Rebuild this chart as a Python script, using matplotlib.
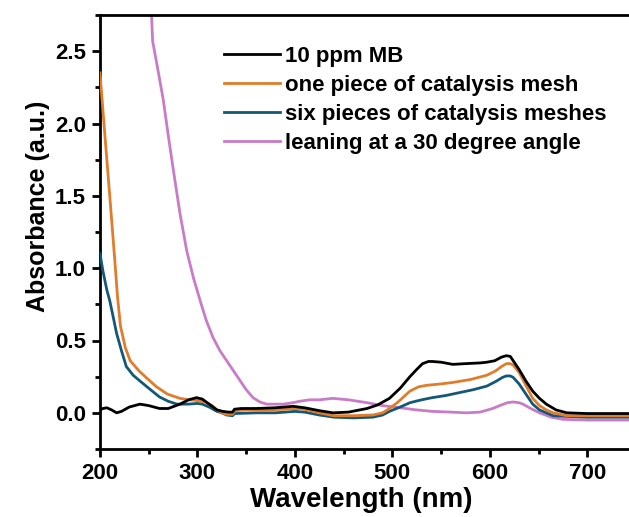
import numpy as np
import matplotlib.pyplot as plt

plt.rcParams.update({
    "font.family": "Liberation Sans",
    "font.weight": "bold",
    "axes.linewidth": 2.0,
})

# UV-vis spectra, wavelength (nm) vs absorbance (a.u.)
wl_mb = [200, 203, 207, 212, 217, 222, 230, 241, 250, 261, 270, 282, 291, 299, 305, 312,
         320, 326, 332, 336, 338, 345, 360, 380, 398, 410, 425, 439, 455, 474, 485, 497,
         508, 518, 525, 531, 537, 541, 550, 562, 575, 590, 597, 605, 612, 617, 621, 624,
         630, 637, 644, 651, 658, 668, 679, 700, 720, 750]
abs_mb = [0.02, 0.03, 0.035, 0.02, 0.0, 0.01, 0.04, 0.06, 0.05, 0.03, 0.03, 0.06, 0.09, 0.105, 0.095, 0.06,
          0.02, 0.01, 0.005, 0.005, 0.025, 0.03, 0.03, 0.035, 0.045, 0.035, 0.015, 0.0, 0.005, 0.03, 0.055, 0.1,
          0.17, 0.25, 0.3, 0.34, 0.355, 0.355, 0.35, 0.335, 0.34, 0.345, 0.35, 0.36, 0.385, 0.395, 0.39, 0.36,
          0.3, 0.22, 0.15, 0.1, 0.06, 0.02, 0.0, -0.005, -0.005, -0.005]

wl_one = [200, 205, 210, 215, 218, 221, 226, 231, 240, 248, 258, 269, 282, 292, 300, 308,
          315, 320, 325, 330, 336, 338, 350, 370, 390, 400, 410, 425, 440, 460, 480, 490,
          497, 505, 518, 527, 535, 550, 562, 580, 597, 606, 612, 617, 621, 624, 630, 637,
          644, 651, 658, 665, 672, 679, 700, 720, 750]
abs_one = [2.35, 1.92, 1.5, 1.07, 0.8, 0.6, 0.45, 0.36, 0.29, 0.24, 0.18, 0.13, 0.1, 0.09, 0.085, 0.075,
           0.05, 0.02, 0.0, -0.01, -0.01, 0.015, 0.02, 0.02, 0.025, 0.03, 0.025, 0.0, -0.02, -0.02, -0.015, 0.0,
           0.03, 0.07, 0.15, 0.18, 0.19, 0.2, 0.21, 0.23, 0.26, 0.29, 0.32, 0.34, 0.34, 0.33, 0.28, 0.19,
           0.1, 0.05, 0.02, 0.0, -0.01, -0.02, -0.02, -0.02, -0.02]

wl_six = [200, 203, 207, 210, 213, 217, 222, 227, 234, 241, 250, 261, 270, 279, 290, 300,
          305, 312, 320, 325, 330, 336, 338, 360, 380, 400, 410, 425, 440, 460, 480, 490,
          497, 508, 518, 530, 541, 555, 569, 583, 597, 607, 613, 617, 621, 624, 630, 637,
          644, 651, 658, 665, 679, 700, 720, 750]
abs_six = [1.1, 0.98, 0.85, 0.775, 0.68, 0.55, 0.43, 0.32, 0.26, 0.22, 0.17, 0.11, 0.08, 0.06, 0.06, 0.065,
           0.06, 0.04, 0.01, 0.0, -0.015, -0.02, -0.005, 0.0, 0.0, 0.01, 0.005, -0.015, -0.03, -0.035, -0.03, -0.015,
           0.01, 0.04, 0.07, 0.09, 0.105, 0.12, 0.14, 0.16, 0.185, 0.22, 0.245, 0.255, 0.255, 0.245, 0.2, 0.13,
           0.06, 0.02, 0.0, -0.02, -0.025, -0.03, -0.03, -0.03]

wl_lean = [200, 201, 203, 210, 230, 250, 253, 254, 260, 265, 270, 275, 282, 289, 296,
           303, 309, 316, 323, 330, 337, 344, 350, 357, 364, 371, 380, 388, 398, 405,
           415, 425, 439, 455, 474, 490, 508, 525, 541, 560, 576, 590, 603, 612, 618, 624,
           630, 634, 642, 651, 663, 675, 700, 720, 750]
abs_lean = [2.55, 3.0, 3.5, 3.8, 3.5, 3.0, 2.73, 2.57, 2.35, 2.16, 1.92, 1.69, 1.38, 1.12, 0.93,
            0.77, 0.64, 0.52, 0.43, 0.36, 0.29, 0.22, 0.16, 0.105, 0.075, 0.06, 0.06, 0.06, 0.07, 0.08,
            0.09, 0.09, 0.1, 0.09, 0.07, 0.05, 0.035, 0.02, 0.01, 0.005, 0.0, 0.005, 0.03, 0.055, 0.07, 0.075,
            0.07, 0.06, 0.03, 0.0, -0.03, -0.045, -0.05, -0.05, -0.05]

labels = ["10 ppm MB", "one piece of catalysis mesh",
          "six pieces of catalysis meshes", "leaning at a 30 degree angle"]
colors = ["black", "#E17C2B", "#135878", "#C97BC8"]

fig = plt.figure(figsize=(6.29, 5.17), dpi=100)
ax = fig.add_axes([100/629, 68/517, 536/629, 434/517])

series = [(wl_mb, abs_mb), (wl_one, abs_one), (wl_six, abs_six), (wl_lean, abs_lean)]
zs = [5, 4, 3, 2]
for (x, y), lab, c, z in zip(series, labels, colors, zs):
    ax.plot(x, y, color=c, lw=2.0, label=lab, zorder=z)

ax.set_xlim(200, 750)
ax.set_ylim(-0.25, 2.75)
ax.set_xticks([200, 300, 400, 500, 600, 700])
ax.set_xticks(np.arange(250, 751, 100), minor=True)
ax.set_yticks([0.0, 0.5, 1.0, 1.5, 2.0, 2.5])
ax.set_yticks(np.arange(-0.25, 2.76, 0.25), minor=True)
ax.yaxis.set_major_formatter(plt.FormatStrFormatter("%.1f"))
ax.tick_params(which="major", length=6, width=2.0, labelsize=16, pad=4)
ax.tick_params(which="minor", length=3.5, width=2.0)
ax.spines["right"].set_visible(False)

ax.set_xlabel("Wavelength (nm)", fontsize=20, fontweight="bold")
ax.set_ylabel("Absorbance (a.u.)", fontsize=18, fontweight="bold")
ax.xaxis.set_label_coords(0.487, -0.088)
ax.yaxis.set_label_coords(-0.093, 0.56)

ax.legend(loc="upper left", bbox_to_anchor=(213/629, 1 - 35/517),
          bbox_transform=fig.transFigure, frameon=False, fontsize=16,
          handlelength=2.5, handletextpad=0.22, labelspacing=0.36, borderpad=0)

fig.savefig("out.png", dpi=100)
